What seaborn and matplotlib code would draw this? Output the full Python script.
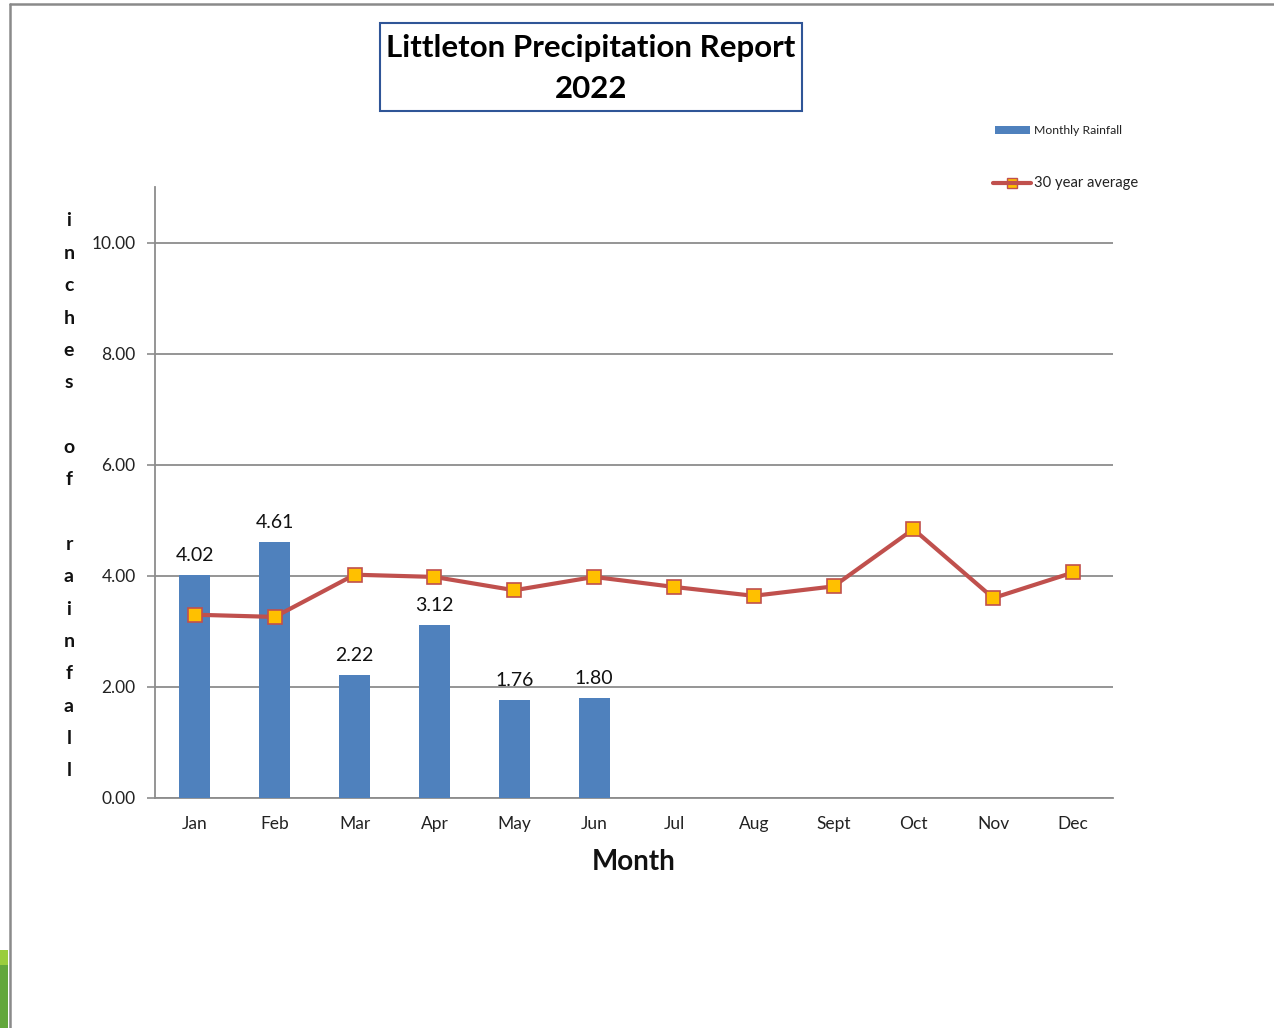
import numpy as np
import pandas as pd
import matplotlib
matplotlib.use("Agg")
import matplotlib.pyplot as plt
from matplotlib.lines import Line2D
from matplotlib.patches import Rectangle
import seaborn as sns

# Monthly data
months = ["Jan", "Feb", "Mar", "Apr", "May", "Jun", "Jul", "Aug", "Sept", "Oct", "Nov", "Dec"]
rain_months = ["Jan", "Feb", "Mar", "Apr", "May", "Jun"]
monthly_rainfall = [4.02, 4.61, 2.22, 3.12, 1.76, 1.80]
thirty_year_avg = [3.30, 3.26, 4.02, 3.98, 3.74, 3.98, 3.80, 3.64, 3.81, 4.84, 3.60, 4.06]
y_ticks = [0, 2, 4, 6, 8, 10]
ylabel_letters = list("inches") + [""] + list("of") + [""] + list("rainfall")

sns.set_theme(style="white")
plt.rcParams["font.family"] = ["Lato", "DejaVu Sans"]

BAR = "#4F81BD"
LINE = "#C0504D"
MARK = "#FFC000"
GRID = "#8C8C8C"

W, H = 1274, 1028
fig = plt.figure(figsize=(W / 100, H / 100), dpi=100)
fig.patch.set_facecolor("white")
ax = fig.add_axes([155 / W, 1 - 798 / H, (1113 - 155) / W, (798 - 187) / H])

rain_df = pd.DataFrame({"month": rain_months, "rain": monthly_rainfall})
sns.barplot(data=rain_df, x="month", y="rain", order=months, color=BAR,
            saturation=1, width=0.39, ax=ax, zorder=3, edgecolor=BAR, linewidth=0)
for c in ax.containers:
    ax.bar_label(c, fmt="%.2f", padding=8, fontsize=14, color="#111111")

avg_df = pd.DataFrame({"pos": np.arange(len(months)), "avg": thirty_year_avg})
sns.lineplot(data=avg_df, x="pos", y="avg", ax=ax, color=LINE, linewidth=3.0,
             marker="s", markersize=10, markerfacecolor=MARK,
             markeredgecolor=LINE, markeredgewidth=1.2, zorder=4)

ax.set_xlim(-0.5, len(months) - 0.5)
ax.set_ylim(0, 11)
ax.set_yticks(y_ticks)
ax.set_yticklabels([f"{v:.2f}" for v in y_ticks], fontsize=12.5, color="#222222")
ax.set_xticks(np.arange(len(months)))
ax.set_xticklabels(months, fontsize=12.5, color="#222222")
ax.set_xticks(np.arange(len(months) + 1) - 0.5, minor=True)
ax.tick_params(axis="x", which="major", length=0, pad=13)
ax.tick_params(axis="x", which="minor", length=6, width=1.2, color=GRID, direction="out")
ax.tick_params(axis="y", which="major", length=6, width=1.2, color=GRID, direction="out", pad=8)
ax.tick_params(left=True, bottom=True)
ax.yaxis.grid(True, color=GRID, linewidth=1.3)
ax.set_axisbelow(True)
for s in ["top", "right"]:
    ax.spines[s].set_visible(False)
for s in ["left", "bottom"]:
    ax.spines[s].set_color(GRID)
    ax.spines[s].set_linewidth(1.3)
ax.set_xlabel("Month", fontsize=20, fontweight="bold", labelpad=12, color="#111111")
ax.set_ylabel("")
ax.legend_ = None

# Vertical stacked axis label
for i, ch in enumerate(ylabel_letters):
    if ch:
        fig.text(69 / W, 1 - (221 + i * 32.35) / H, ch, ha="center", va="center",
                 fontsize=14, fontweight="bold", color="#111111")

# Title box
fig.text(591 / W, 1 - 48 / H, "Littleton Precipitation Report", ha="center", va="center",
         fontsize=22.5, fontweight="bold", color="#000000")
fig.text(591 / W, 1 - 89 / H, "2022", ha="center", va="center",
         fontsize=22.5, fontweight="bold", color="#000000")
fig.add_artist(Rectangle((380 / W, 1 - 111 / H), (802 - 380) / W, (111 - 23) / H,
                         transform=fig.transFigure, fill=False, edgecolor="#2F5597", linewidth=1.5))

# Legend
fig.add_artist(Rectangle((995 / W, 1 - 134 / H), 35 / W, 8 / H, transform=fig.transFigure,
                         facecolor=BAR, edgecolor="none"))
fig.text(1034 / W, 1 - 130 / H, "Monthly Rainfall", ha="left", va="center", fontsize=8.8, color="#222222")
fig.add_artist(Line2D([993 / W, 1031 / W], [1 - 183 / H, 1 - 183 / H], transform=fig.transFigure,
                      color=LINE, linewidth=3.0, zorder=3))
fig.add_artist(Line2D([1012 / W], [1 - 183 / H], transform=fig.transFigure, color=LINE,
                      linestyle="none", marker="s", markersize=7, markerfacecolor=MARK,
                      markeredgecolor=LINE, markeredgewidth=1.0))
fig.text(1034 / W, 1 - 183 / H, "30 year average", ha="left", va="center", fontsize=10.6, color="#222222")

# Page frame and side strip
fig.add_artist(Line2D([10 / W, 1], [1 - 4 / H, 1 - 4 / H], transform=fig.transFigure,
                      color="#8A8A8A", linewidth=1.8))
fig.add_artist(Line2D([10 / W, 10 / W], [0, 1 - 4 / H], transform=fig.transFigure,
                      color="#8A8A8A", linewidth=1.8))
fig.add_artist(Rectangle((0, 0), 8 / W, (1028 - 965) / H, transform=fig.transFigure,
                         facecolor="#62A73B", edgecolor="none"))
fig.add_artist(Rectangle((0, 1 - 965 / H), 8 / W, 15 / H, transform=fig.transFigure,
                         facecolor="#9ACD3C", edgecolor="none"))

fig.savefig("out.png", dpi=100, facecolor="white")
